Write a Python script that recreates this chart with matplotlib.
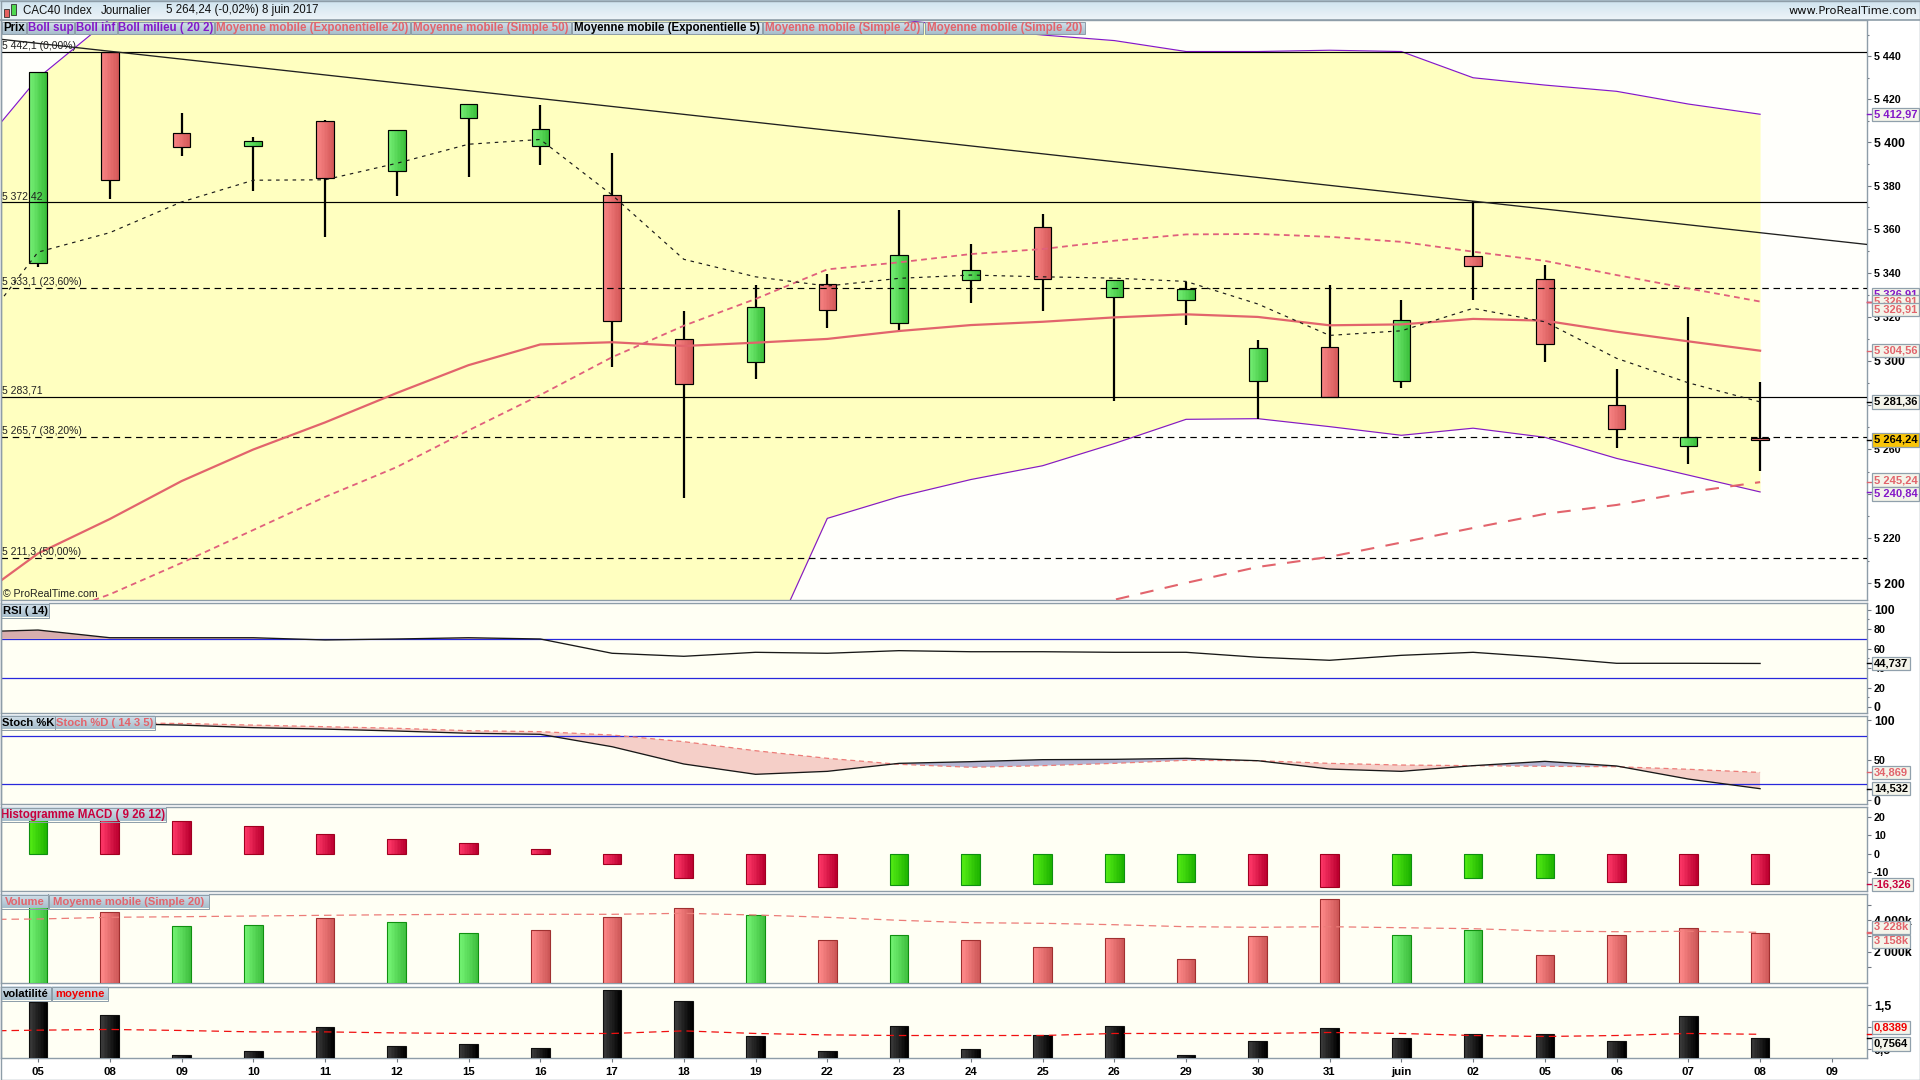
#CAC40 daily chart, ProRealTime style
import matplotlib
matplotlib.use("Agg")
import matplotlib.pyplot as plt
import numpy as np
from matplotlib.colors import LinearSegmentedColormap
from matplotlib.patches import Rectangle
from matplotlib.ticker import FixedLocator, FixedFormatter, NullFormatter

plt.rcParams['font.family'] = ['Liberation Sans', 'DejaVu Sans']

days = ["05","08","09","10","11","12","15","16","17","18","19","22","23","24","25","26","29","30","31","juin","02","05","06","07","08","09"]

opens  = [5344.3,5442.0,5404.1,5398.4,5409.7,5386.6,5411.1,5398.1,5375.5,5309.7,5299.3,5334.8,5317.0,5336.9,5360.8,5328.8,5327.5,5290.7,5306.1,5290.7,5347.6,5337.0,5279.8,5261.3,5264.9]
closes = [5432.5,5382.7,5397.9,5400.4,5383.4,5405.5,5417.6,5406.0,5317.9,5289.3,5324.3,5322.9,5348.0,5341.2,5337.0,5336.6,5332.5,5305.6,5283.4,5318.4,5343.3,5307.7,5269.0,5265.4,5264.24]
highs  = [5432.5,5442.0,5413.5,5402.4,5410.3,5405.5,5417.6,5417.2,5395.0,5322.6,5334.3,5339.5,5368.8,5353.2,5366.9,5336.6,5335.8,5309.4,5334.4,5327.6,5372.9,5343.6,5296.2,5319.9,5290.4]
lows   = [5342.9,5373.8,5393.6,5377.5,5356.2,5375.4,5384.1,5389.6,5297.3,5238.3,5291.8,5315.0,5314.1,5326.4,5322.7,5281.9,5316.4,5273.5,5283.4,5287.8,5327.7,5299.6,5260.7,5253.5,5250.4]

# averages start one session before the first visible day
boll_up  = [5389.9,5429.8,5457.2,5462,5468,5472,5475,5476,5474,5472,5468,5465,5461,5457,5453,5449.8,5447.2,5442.1,5442.1,5442.7,5442.1,5429.9,5426.5,5423.6,5417.7,5412.97]
boll_low = [5185,5182,5178,5176,5174,5172,5170,5168,5166,5164,5161,5158.6,5229.0,5238.7,5246.4,5252.6,5262.6,5273.5,5273.8,5270.2,5266.3,5269.5,5265.4,5255.9,5248.4,5240.84]
ema5  = [5307.1,5349.5,5358.4,5372.5,5382.5,5382.7,5390.3,5399.1,5401.3,5375.7,5346.2,5338.2,5334.0,5337.5,5339.0,5338.2,5337.6,5336.1,5325.8,5311.5,5313.6,5323.8,5317.7,5301.1,5290.0,5281.36]
sma20 = [5190.0,5213.3,5228.7,5245.7,5259.9,5272.1,5285.4,5298.0,5307.4,5308.4,5306.7,5308.2,5309.9,5313.5,5316.2,5317.7,5319.7,5321.1,5319.9,5316.1,5316.5,5319.0,5318.2,5313.2,5308.8,5304.56]
sma50 = [5170.5,5183.8,5195.1,5209.1,5223.8,5238.6,5252.0,5268.5,5284.5,5301.6,5315.9,5328.1,5341.6,5344.8,5348.6,5350.9,5354.7,5357.6,5357.8,5356.5,5354.2,5349.7,5345.5,5339.0,5332.9,5326.91]
ema20_days = [14,15,16,17,18,19,20,21,22,23,24]
ema20 = [5186.0,5192.7,5200.2,5207.3,5211.8,5218.2,5224.7,5231.0,5235.0,5240.7,5245.24]

solid_levels = [5442.1,5372.42,5283.71]
dashed_levels = [5333.1,5265.7,5211.3]
level_labels = [(5442.1,"5 442,1 (0,00%)"),(5372.42,"5 372,42"),(5333.1,"5 333,1 (23,60%)"),(5283.71,"5 283,71"),(5265.7,"5 265,7 (38,20%)"),(5211.3,"5 211,3 (50,00%)")]
trend_x = [-0.516,25.49]
trend_y = [5447.8,5353.0]

rsi = [77.0,79.1,71.2,71.2,71.2,68.9,69.9,71.2,69.9,55.2,52.1,56.2,55.2,57.9,56.8,56.8,56.2,56.2,51.1,48.0,53.1,56.2,51.1,44.9,44.9,44.737]
stoch_k = [97,96,94,90.8,89,86.6,83.8,82.5,67,45.4,32.5,36.2,46.2,48.3,50.8,51.2,52.5,49.5,39.1,36.2,43.3,48.7,42.9,26.6,14.532]
stoch_d = [98,97,96,94,92,90,87,85.8,81.6,73.3,62,52.5,45,41.3,43.3,46.2,50,49.5,46.2,44.1,43.3,42.5,42,38.8,34.869]

macd = [19,18.5,17.8,15.1,10.6,7.9,5.8,2.5,-5.6,-13.2,-16,-17.6,-16.5,-16.5,-16,-15.3,-15.3,-16.5,-17.8,-16.5,-13.2,-13.2,-15.3,-16.5,-16.326]
macd_up = [1,0,0,0,0,0,0,0,0,0,0,0,1,1,1,1,1,0,0,1,1,1,0,0,0]

volume = [4968,4503,3611,3675,4121,3866,3166,3357,4185,4758,4331,2720,3038,2720,2274,2847,1510,2975,5331,3038,3357,1764,3038,3484,3158]
volume_up = [1,0,1,1,0,1,1,0,0,0,1,0,1,0,0,0,0,0,0,1,1,0,0,0,0]
volume_ma = [4040,4076,4185,4223,4268,4312,4350,4376,4376,4376,4439,4331,4185,3994,3841,3803,3713,3586,3548,3586,3522,3459,3312,3268,3293,3228]

volat = [1.57,1.27,0.364,0.455,1.0,0.568,0.614,0.523,1.84,1.59,0.795,0.455,1.02,0.5,0.818,1.02,0.364,0.68,0.977,0.75,0.84,0.84,0.68,1.25,0.7564]
volat_ma = [0.909,0.932,0.948,0.925,0.893,0.893,0.87,0.857,0.857,0.857,0.916,0.857,0.825,0.811,0.811,0.811,0.857,0.857,0.857,0.88,0.857,0.811,0.789,0.811,0.857,0.8389]

GRID = '#8E9DA8'
PANEL = '#FFFFF4'
PURPLE = '#8418C8'
SALMON = '#E2646C'
CRIMSON = '#C8003C'
BLUE = '#2828DC'
PX = 0.72  # one pixel in points at dpi 100

xs = np.arange(25)
ma_x = np.arange(-1, 25)

fig = plt.figure(figsize=(19.2, 10.8), dpi=100, facecolor='white')


def panel(top, bottom, facecolor=PANEL):
	ax = fig.add_axes([1/1920, 1-bottom/1080, 1866/1920, (bottom-top)/1080], facecolor=facecolor)
	for s in ax.spines.values():
		s.set_color(GRID)
		s.set_linewidth(1.0)
	ax.yaxis.tick_right()
	ax.set_xticks([])
	return ax


def right_ticks(ax, major, labels, minor, big=()):
	ax.yaxis.set_major_locator(FixedLocator(major))
	ax.yaxis.set_major_formatter(FixedFormatter(labels))
	ax.yaxis.set_minor_locator(FixedLocator(minor))
	ax.yaxis.set_minor_formatter(NullFormatter())
	ax.tick_params(axis='y', which='major', length=4*PX, width=0.8, color='#707880', pad=3*PX, labelsize=7.7)
	ax.tick_params(axis='y', which='minor', length=2*PX, width=0.8, color='#707880')
	for lab, v in zip(ax.get_yticklabels(), major):
		lab.set_fontweight('bold')
		if v in big:
			lab.set_fontsize(8.8)


def grad_bars(ax, x, bottoms, tops, width, left, right, edge, lw=0.8, z=3):
	cmap = LinearSegmentedColormap.from_list('bar', [left, right])
	for xi, lo, hi in zip(x, bottoms, tops):
		edges = np.linspace(xi-width/2, xi+width/2, 13)
		ax.pcolormesh(edges, [lo, hi], np.linspace(0, 1, 12)[None, :], cmap=cmap, vmin=0, vmax=1, zorder=z)
	ax.bar(x, np.array(tops)-np.array(bottoms), width, bottom=bottoms, fill=False, edgecolor=edge, linewidth=lw, zorder=z+0.1)


def tag(ax, value, text, color, dy=0, fc='#F4F4EA'):
	ax.plot([1, 1+5/1866], [value, value], transform=ax.get_yaxis_transform(), color=color, lw=1.0, clip_on=False, zorder=6)
	ax.annotate(text, xy=(1, value), xycoords=ax.get_yaxis_transform(), xytext=(7, -dy), textcoords='offset pixels',
		va='center', ha='left', fontsize=8.0, fontweight='bold', color=color, annotation_clip=False, zorder=7,
		bbox=dict(boxstyle='square,pad=0.15', fc=fc, ec='#90A0AC', lw=0.9))


XLIM = (-0.516, 25.49)

# ---- prices
ax = panel(20, 600, '#FFFFFB')
ax.set_yscale('log')
ax.fill_between(ma_x, boll_low, boll_up, color='#FFFFC0', lw=0, zorder=1)
ax.plot(ma_x, boll_up, color=PURPLE, lw=0.85, zorder=2)
ax.plot(ma_x, boll_low, color=PURPLE, lw=0.85, zorder=2)

ax.vlines(xs, lows, highs, color='black', lw=1.6, zorder=3)
for wanted, left, right in [(True, '#74EE74', '#3CC03C'), (False, '#F88484', '#D65A5A')]:
	pick = [i for i in xs if (closes[i] >= opens[i]) == wanted]
	grad_bars(ax, pick, [min(opens[i], closes[i]) for i in pick], [max(opens[i], closes[i]) for i in pick], 0.245, left, right, 'black', lw=0.85, z=3.2)

for lev in solid_levels:
	ax.axhline(lev, color='black', lw=0.85, zorder=4)
for lev in dashed_levels:
	ax.axhline(lev, color='black', lw=0.85, ls=(0, (5.5, 4)), zorder=4)
ax.plot(trend_x, trend_y, color='#202020', lw=0.95, zorder=4)

ax.plot(ma_x, sma20, color=SALMON, lw=1.6, zorder=5)
ax.plot(ma_x, sma50, color='#E0607C', lw=1.3, ls=(0, (3.2, 2.4)), zorder=5)
ax.plot(ema20_days, ema20, color=SALMON, lw=1.5, ls=(0, (6.5, 5.5)), zorder=5)
ax.plot(ma_x, ema5, color='#1A1A1A', lw=0.85, ls=(0, (3, 4)), zorder=5)

for lev, txt in level_labels:
	ax.annotate(txt, xy=(0, lev), xycoords=ax.get_yaxis_transform(), xytext=(1, 1), textcoords='offset pixels',
		fontsize=7.5, color='#202020', va='bottom', ha='left', zorder=6)
ax.text(2/1866, 6/580, "© ProRealTime.com", transform=ax.transAxes, fontsize=7.6, color='#202020', va='center', ha='left', zorder=6)

major = list(range(5200, 5460, 20))
minor = list(range(5190, 5470, 20))
right_ticks(ax, major, ["5 %03d" % (v-5000) for v in major], minor, big=(5400, 5300, 5200))
tag(ax, 5412.97, "5 412,97", PURPLE)
tag(ax, 5326.91, "5 326,91", PURPLE, dy=-7)
tag(ax, 5326.91, "5 326,91", SALMON, dy=0)
tag(ax, 5326.91, "5 326,91", SALMON, dy=8)
tag(ax, 5304.56, "5 304,56", SALMON)
tag(ax, 5281.36, "5 281,36", 'black')
tag(ax, 5264.24, "5 264,24", 'black', fc='#F8C408')
tag(ax, 5245.24, "5 245,24", SALMON, dy=-2)
tag(ax, 5240.84, "5 240,84", PURPLE, dy=2)
ax.set_xlim(*XLIM)
ax.set_ylim(5192.6, 5456.8)

# ---- RSI
ax = panel(603, 712.7)
ax.axhline(70, color=BLUE, lw=0.9, zorder=1)
ax.axhline(30, color=BLUE, lw=0.9, zorder=1)
ax.fill_between(ma_x, rsi, 70, where=np.array(rsi) > 70, interpolate=True, color='#D8AEAE', lw=0, zorder=2)
ax.plot(ma_x, rsi, color='#181818', lw=0.95, zorder=3)
right_ticks(ax, [0, 20, 40, 60, 80, 100], ["0", "20", "40", "60", "80", "100"], [10, 50, 90], big=(0, 100))
tag(ax, 44.737, "44,737", 'black')
ax.set_xlim(*XLIM)
ax.set_ylim(-5.9, 106.9)

# ---- stochastic
ax = panel(715.7, 804)
ax.axhline(80, color=BLUE, lw=0.9, zorder=3)
ax.axhline(20, color=BLUE, lw=0.9, zorder=3)
k = np.array(stoch_k)
d = np.array(stoch_d)
ax.fill_between(xs, k, d, where=d >= k, interpolate=True, color='#F5CFC8', lw=0, zorder=1)
ax.fill_between(xs, k, d, where=k >= d, interpolate=True, color='#B4B4D2', lw=0, zorder=1)
ax.plot(xs, d, color='#EC7C78', lw=0.9, ls=(0, (4, 3)), zorder=4)
ax.plot(xs, k, color='#181818', lw=0.95, zorder=4)
right_ticks(ax, [0, 50, 100], ["0", "50", "100"], [], big=(0, 100))
tag(ax, 34.869, "34,869", SALMON)
tag(ax, 14.532, "14,532", 'black')
ax.set_xlim(*XLIM)
ax.set_ylim(-4.6, 105.75)

# ---- MACD histogram
ax = panel(807.3, 891)
for wanted, left, right, edge in [(1, '#54EC14', '#1EB400', '#0E9010'), (0, '#FF3868', '#BC0030', '#A00020')]:
	pick = [i for i in xs if macd_up[i] == wanted]
	vals = [macd[i] for i in pick]
	grad_bars(ax, pick, [min(v, 0) for v in vals], [max(v, 0) for v in vals], 0.26, left, right, edge)
right_ticks(ax, [-10, 0, 10, 20], ["-10", "0", "10", "20"], [])
tag(ax, -16.326, "-16,326", CRIMSON)
ax.set_xlim(*XLIM)
ax.set_ylim(-20, 25.2)

# ---- volume
ax = panel(894.3, 983.3)
for wanted, left, right, edge in [(1, '#74F474', '#40C040', '#109010'), (0, '#FF8A8A', '#CE5858', '#A03030')]:
	pick = [i for i in xs if volume_up[i] == wanted]
	grad_bars(ax, pick, [0]*len(pick), [volume[i] for i in pick], 0.26, left, right, edge)
ax.plot(ma_x, volume_ma, color='#EC7C78', lw=0.9, ls=(0, (6, 4)), zorder=5)
right_ticks(ax, [1000, 2000, 3000, 4000, 5000], ["", "2 000k", "", "4 000k", ""], [], big=(2000, 4000))
tag(ax, 3228, "3 228k", SALMON, dy=-5)
tag(ax, 3158, "3 158k", SALMON, dy=8)
ax.set_xlim(*XLIM)
ax.set_ylim(-19, 5650)

# ---- volatility, the only panel with day labels
ax = panel(986.7, 1058.3)
grad_bars(ax, xs, [0.2]*25, volat, 0.26, '#3C3C3C', '#000000', '#101010')
ax.plot(ma_x, volat_ma, color='#F01010', lw=0.9, ls=(0, (6, 4)), zorder=5)
right_ticks(ax, [0.5, 1.0, 1.5], ["0,5", "", "1,5"], [], big=(0.5, 1.5))
tag(ax, 0.8389, "0,8389", '#F00000', dy=-7)
tag(ax, 0.7564, "0,7564", 'black', dy=6)
ax.set_xticks(np.arange(26))
ax.set_xticklabels(days, fontweight='bold', fontsize=8.2)
ax.tick_params(axis='x', length=4*PX, width=0.8, color='#707880', pad=5*PX)
ax.set_xlim(*XLIM)
ax.set_ylim(0.295, 1.916)

# ---- window chrome, in pixel coordinates
top = fig.add_axes([0, 0, 1, 1], zorder=50)
top.patch.set_alpha(0)
top.axis('off')


def chip(x0, x1, y0, y1, text, color, bright=False, size=8.3):
	shades = ['#E8F0F5', '#C4D6E2'] if bright else ['#D2E0EA', '#A8BECC']
	top.imshow(np.linspace(0, 1, 16)[:, None], extent=(x0, x1, y1, y0), aspect='auto', zorder=2,
		cmap=LinearSegmentedColormap.from_list('chip', shades))
	top.add_patch(Rectangle((x0, y0), x1-x0, y1-y0, fill=False, ec='#8C9CA8', lw=0.7, zorder=3))
	top.text((x0+x1)/2, (y0+y1)/2+0.3, text, color=color, fontsize=size, fontweight='bold', ha='center', va='center', zorder=4)


top.imshow(np.linspace(0, 1, 16)[:, None], extent=(0, 1920, 20, 0), aspect='auto', zorder=1,
	cmap=LinearSegmentedColormap.from_list('bar', ['#CFE3EF', '#EDF4F8']))
top.plot([0, 1920], [0.5, 0.5], color='#A0B2BE', lw=1.2, zorder=2)
top.plot([0, 1920], [20, 20], color=GRID, lw=1.2, zorder=2)
top.add_patch(Rectangle((3.5, 8.5), 5, 8, fc='#E46060', ec='#303030', lw=0.6, zorder=3))
top.add_patch(Rectangle((10.5, 3.5), 5, 11, fc='#50D850', ec='#303030', lw=0.6, zorder=3))

for x, txt in [(23, "CAC40 Index"), (101, "Journalier"), (166, "5 264,24 (-0,02%)"), (262, "8 juin 2017")]:
	top.text(x, 10.5, txt, fontsize=8.3, color='#101010', va='center', ha='left', zorder=4)
top.text(1917, 11, "www.ProRealTime.com", fontsize=8.2, color='#101010', va='center', ha='right', family='DejaVu Sans', zorder=4)

chip(2, 26, 22, 34, "Prix", 'black')
chip(27, 74, 22, 34, "Boll sup", PURPLE)
chip(75, 117, 22, 34, "Boll inf", PURPLE)
chip(118, 214, 22, 34, "Boll milieu ( 20 2)", PURPLE)
chip(215, 410, 22, 34, "Moyenne mobile (Exponentielle 20)", SALMON)
chip(411, 571, 22, 34, "Moyenne mobile (Simple 50)", SALMON)
chip(572, 762, 22, 34, "Moyenne mobile (Exponentielle 5)", 'black', bright=True)
chip(763, 923, 22, 34, "Moyenne mobile (Simple 20)", SALMON)
chip(925, 1085, 22, 34, "Moyenne mobile (Simple 20)", SALMON)
chip(1, 49, 604, 617.5, "RSI ( 14)", 'black', size=8.1)
chip(1, 55, 716, 729.5, "Stoch %K", 'black', size=8.1)
chip(55, 155, 716, 729.5, "Stoch %D ( 14 3 5)", SALMON, size=8.1)
chip(1, 166, 808, 821.5, "Histogramme MACD ( 9 26 12)", CRIMSON, size=8.3)
chip(1, 48, 895, 908.5, "Volume", SALMON, size=8.1)
chip(49, 209, 895, 908.5, "Moyenne mobile (Simple 20)", SALMON, size=8.1)
chip(1, 51, 987, 1000.5, "volatilité", 'black', size=8.1)
chip(52, 108, 987, 1000.5, "moyenne", '#F00000', size=8.1)

top.add_patch(Rectangle((0.5, 0.5), 1919, 1079, fill=False, ec=GRID, lw=1.0, zorder=5))
top.set_xlim(0, 1920)
top.set_ylim(1080, 0)

fig.savefig("out.png", dpi=100)
